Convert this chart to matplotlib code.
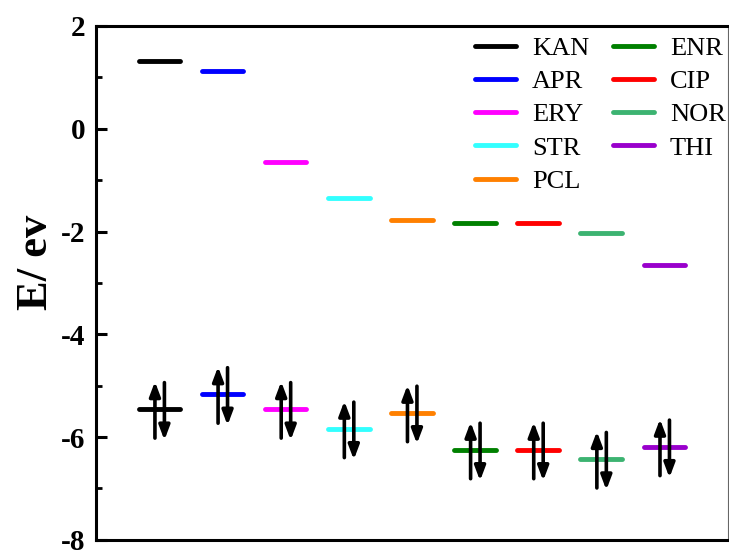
import matplotlib.pyplot as plt
import numpy as np

names = ['KAN', 'APR', 'ERY', 'STR', 'PCL', 'ENR', 'CIP', 'NOR', 'THI']
lumo = [1.32, 1.13, -0.64, -1.34, -1.77, -1.84, -1.84, -2.02, -2.66]
homo = [-5.46, -5.17, -5.46, -5.84, -5.53, -6.25, -6.25, -6.43, -6.19]
colors = ['#000000', '#0000ff', '#ff00ff', '#33ffff', '#ff8000',
          '#008000', '#ff0000', '#3cb371', '#9900cc']

plt.rcParams['font.family'] = ['Liberation Serif', 'DejaVu Serif']
plt.rcParams['axes.unicode_minus'] = False

fig = plt.figure(figsize=(7.29, 5.52), dpi=100)
ax = fig.add_axes([0.132, 0.022, 0.866, 0.931])

xs = np.arange(1, len(names) + 1)
hw = 0.33
for x, lu, ho, c, n in zip(xs, lumo, homo, colors, names):
    ax.plot([x - hw, x + hw], [lu, lu], color=c, lw=3.5,
            solid_capstyle='round', label=n, zorder=2)
    ax.plot([x - hw, x + hw], [ho, ho], color=c, lw=3.5,
            solid_capstyle='round', zorder=2)
    # electron pair arrows
    arr = dict(arrowstyle='-|>,head_length=0.85,head_width=0.32',
               mutation_scale=10, lw=2.6, color='k', shrinkA=0, shrinkB=0)
    ax.annotate('', xy=(x - 0.07, ho + 0.54), xytext=(x - 0.07, ho - 0.56),
                arrowprops=arr, zorder=3)
    ax.annotate('', xy=(x + 0.08, ho - 0.60), xytext=(x + 0.08, ho + 0.52),
                arrowprops=arr, zorder=3)

ax.set_xlim(0, 10)
ax.set_ylim(-8, 2)
ax.set_xticks([])
ax.set_yticks([-8, -6, -4, -2, 0, 2])
ax.set_yticks([-7, -5, -3, -1, 1], minor=True)
ax.tick_params(axis='y', which='major', direction='in', length=8, width=2.2,
               labelsize=21, pad=8)
ax.tick_params(axis='y', which='minor', direction='in', length=4, width=2)
for lab in ax.get_yticklabels():
    lab.set_fontweight('bold')

for s in ['left', 'top', 'bottom']:
    ax.spines[s].set_linewidth(2.2)
ax.spines['right'].set_linewidth(0.8)
ax.spines['right'].set_color('#666666')

ax.set_ylabel('E/ ev', fontsize=32, fontweight='bold')
ax.yaxis.set_label_coords(-0.063, 0.54)

ax.legend(loc='upper right', ncol=2, frameon=False, fontsize=19,
          handlelength=1.55, handletextpad=0.6, labelspacing=0.37,
          columnspacing=0.9, borderaxespad=0.0, bbox_to_anchor=(1.014, 1.0))

fig.savefig('out.png', dpi=100)
